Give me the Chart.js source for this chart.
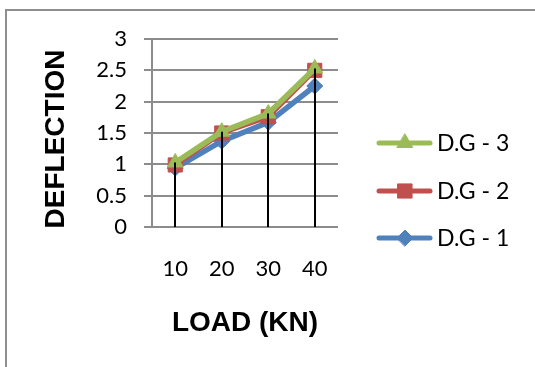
<!DOCTYPE html>
<html>
<head>
<meta charset="utf-8">
<script src="https://cdn.jsdelivr.net/npm/chart.js@4.4.1/dist/chart.umd.min.js"></script>
<style>
  html, body { margin: 0; padding: 0; background: #fff; overflow: hidden; }
  #frame { position: absolute; left: 5px; top: 9px; width: 600px; height: 400px;
           border-left: 2px solid #8e8e8e; border-top: 2px solid #8e8e8e; }
  #chartBox { position: absolute; left: 0; top: 0; width: 535px; height: 367px; }
</style>
</head>
<body>
<div id="frame"></div>
<div id="chartBox"><canvas id="deflectionChart" width="535" height="367"></canvas></div>
<script>
// data
const loads = ['10', '20', '30', '40'];
const dg1 = [0.94, 1.37, 1.67, 2.25];
const dg2 = [0.99, 1.50, 1.76, 2.50];
const dg3 = [1.03, 1.52, 1.81, 2.53];
const yTicks = [0, 0.5, 1, 1.5, 2, 2.5, 3];

const tickFont = { family: 'Lato', size: 22 };
const titleFont = { family: 'Liberation Sans', size: 28, weight: 'bold' };

// black drop lines from the highest point down to the axis (like Excel)
const dropLines = {
  id: 'dropLines',
  afterDatasetsDraw(chart) {
    const { ctx, scales: { x, y } } = chart;
    const sets = chart.data.datasets;
    ctx.save();
    ctx.strokeStyle = '#000';
    ctx.lineWidth = 2;
    loads.forEach((l, i) => {
      const top = Math.max(...sets.map(s => s.data[i]));
      const px = Math.round(x.getPixelForValue(i));
      ctx.beginPath();
      ctx.moveTo(px, y.getPixelForValue(top));
      ctx.lineTo(px, y.getPixelForValue(0));
      ctx.stroke();
    });
    ctx.restore();
  }
};

// y title sits a little below the plot centre in the original
const yTitle = {
  id: 'yTitle',
  afterDraw(chart) {
    const ctx = chart.ctx;
    ctx.save();
    ctx.translate(56, 139);
    ctx.rotate(-Math.PI / 2);
    ctx.fillStyle = '#000';
    ctx.font = 'bold 28px "Liberation Sans"';
    ctx.textAlign = 'center';
    ctx.textBaseline = 'middle';
    ctx.fillText('DEFLECTION', 0, 0);
    ctx.restore();
  }
};

// legend with a line through the marker, last series on top
const lineLegend = {
  id: 'lineLegend',
  afterDraw(chart) {
    const ctx = chart.ctx;
    const rows = [143, 191, 238];
    const sets = chart.data.datasets.slice().reverse();
    ctx.save();
    sets.forEach((ds, k) => {
      const yy = rows[k];
      ctx.strokeStyle = ds.borderColor;
      ctx.lineWidth = 5;
      ctx.lineCap = 'round';
      ctx.beginPath();
      ctx.moveTo(379, yy);
      ctx.lineTo(430, yy);
      ctx.stroke();
      ctx.fillStyle = ds.backgroundColor;
      ctx.strokeStyle = ds.borderColor;
      ctx.lineWidth = 1;
      Chart.helpers.drawPoint(ctx, { pointStyle: ds.pointStyle, radius: ds.pointRadius, rotation: 0, borderWidth: 1 }, 405, yy);
      ctx.fillStyle = '#000';
      ctx.font = '23px Lato';
      ctx.textBaseline = 'middle';
      ctx.textAlign = 'left';
      ctx.fillText(ds.label, 437, yy + 1);
    });
    ctx.restore();
  }
};

const ctx = document.getElementById('deflectionChart').getContext('2d');
new Chart(ctx, {
  type: 'line',
  data: {
    labels: loads,
    datasets: [
      {
        label: 'D.G - 1',
        data: dg1,
        borderColor: '#4F81BD',
        backgroundColor: '#4F81BD',
        borderWidth: 5.5,
        pointStyle: 'rectRot',
        pointRadius: 8,
        pointBorderWidth: 1,
        order: 3
      },
      {
        label: 'D.G - 2',
        data: dg2,
        borderColor: '#C0504D',
        backgroundColor: '#C0504D',
        borderWidth: 5,
        pointStyle: 'rect',
        pointRadius: 10,
        pointBorderWidth: 1,
        order: 2
      },
      {
        label: 'D.G - 3',
        data: dg3,
        borderColor: '#9BBB59',
        backgroundColor: '#9BBB59',
        borderWidth: 5.5,
        pointStyle: 'triangle',
        pointRadius: 9,
        pointBorderWidth: 1,
        order: 1
      }
    ]
  },
  options: {
    responsive: false,
    animation: false,
    layout: { padding: { top: 39, right: 197, bottom: 0, left: 0 } },
    plugins: {
      legend: { display: false },
      tooltip: { enabled: false }
    },
    scales: {
      x: {
        offset: true,
        grid: { display: false, drawTicks: false },
        border: { display: false },
        ticks: { color: '#000', font: tickFont, padding: 29, maxRotation: 0 },
        title: { display: true, text: 'LOAD (KN)', color: '#000', font: titleFont, padding: { top: 0, bottom: 27 } },
        afterFit(scale) { scale.height = 140; }
      },
      y: {
        min: 0,
        max: 3,
        afterBuildTicks(scale) { scale.ticks = yTicks.map(v => ({ value: v })); },
        grid: { color: '#8c8c8c', lineWidth: 2, tickLength: 8 },
        border: { display: true, color: '#8c8c8c', width: 2 },
        ticks: { color: '#000', font: tickFont, padding: 17, callback: v => String(v) },
        title: { display: false },
        afterFit(scale) { scale.width = 152; }
      }
    }
  },
  plugins: [dropLines, yTitle, lineLegend]
});
</script>
</body>
</html>
